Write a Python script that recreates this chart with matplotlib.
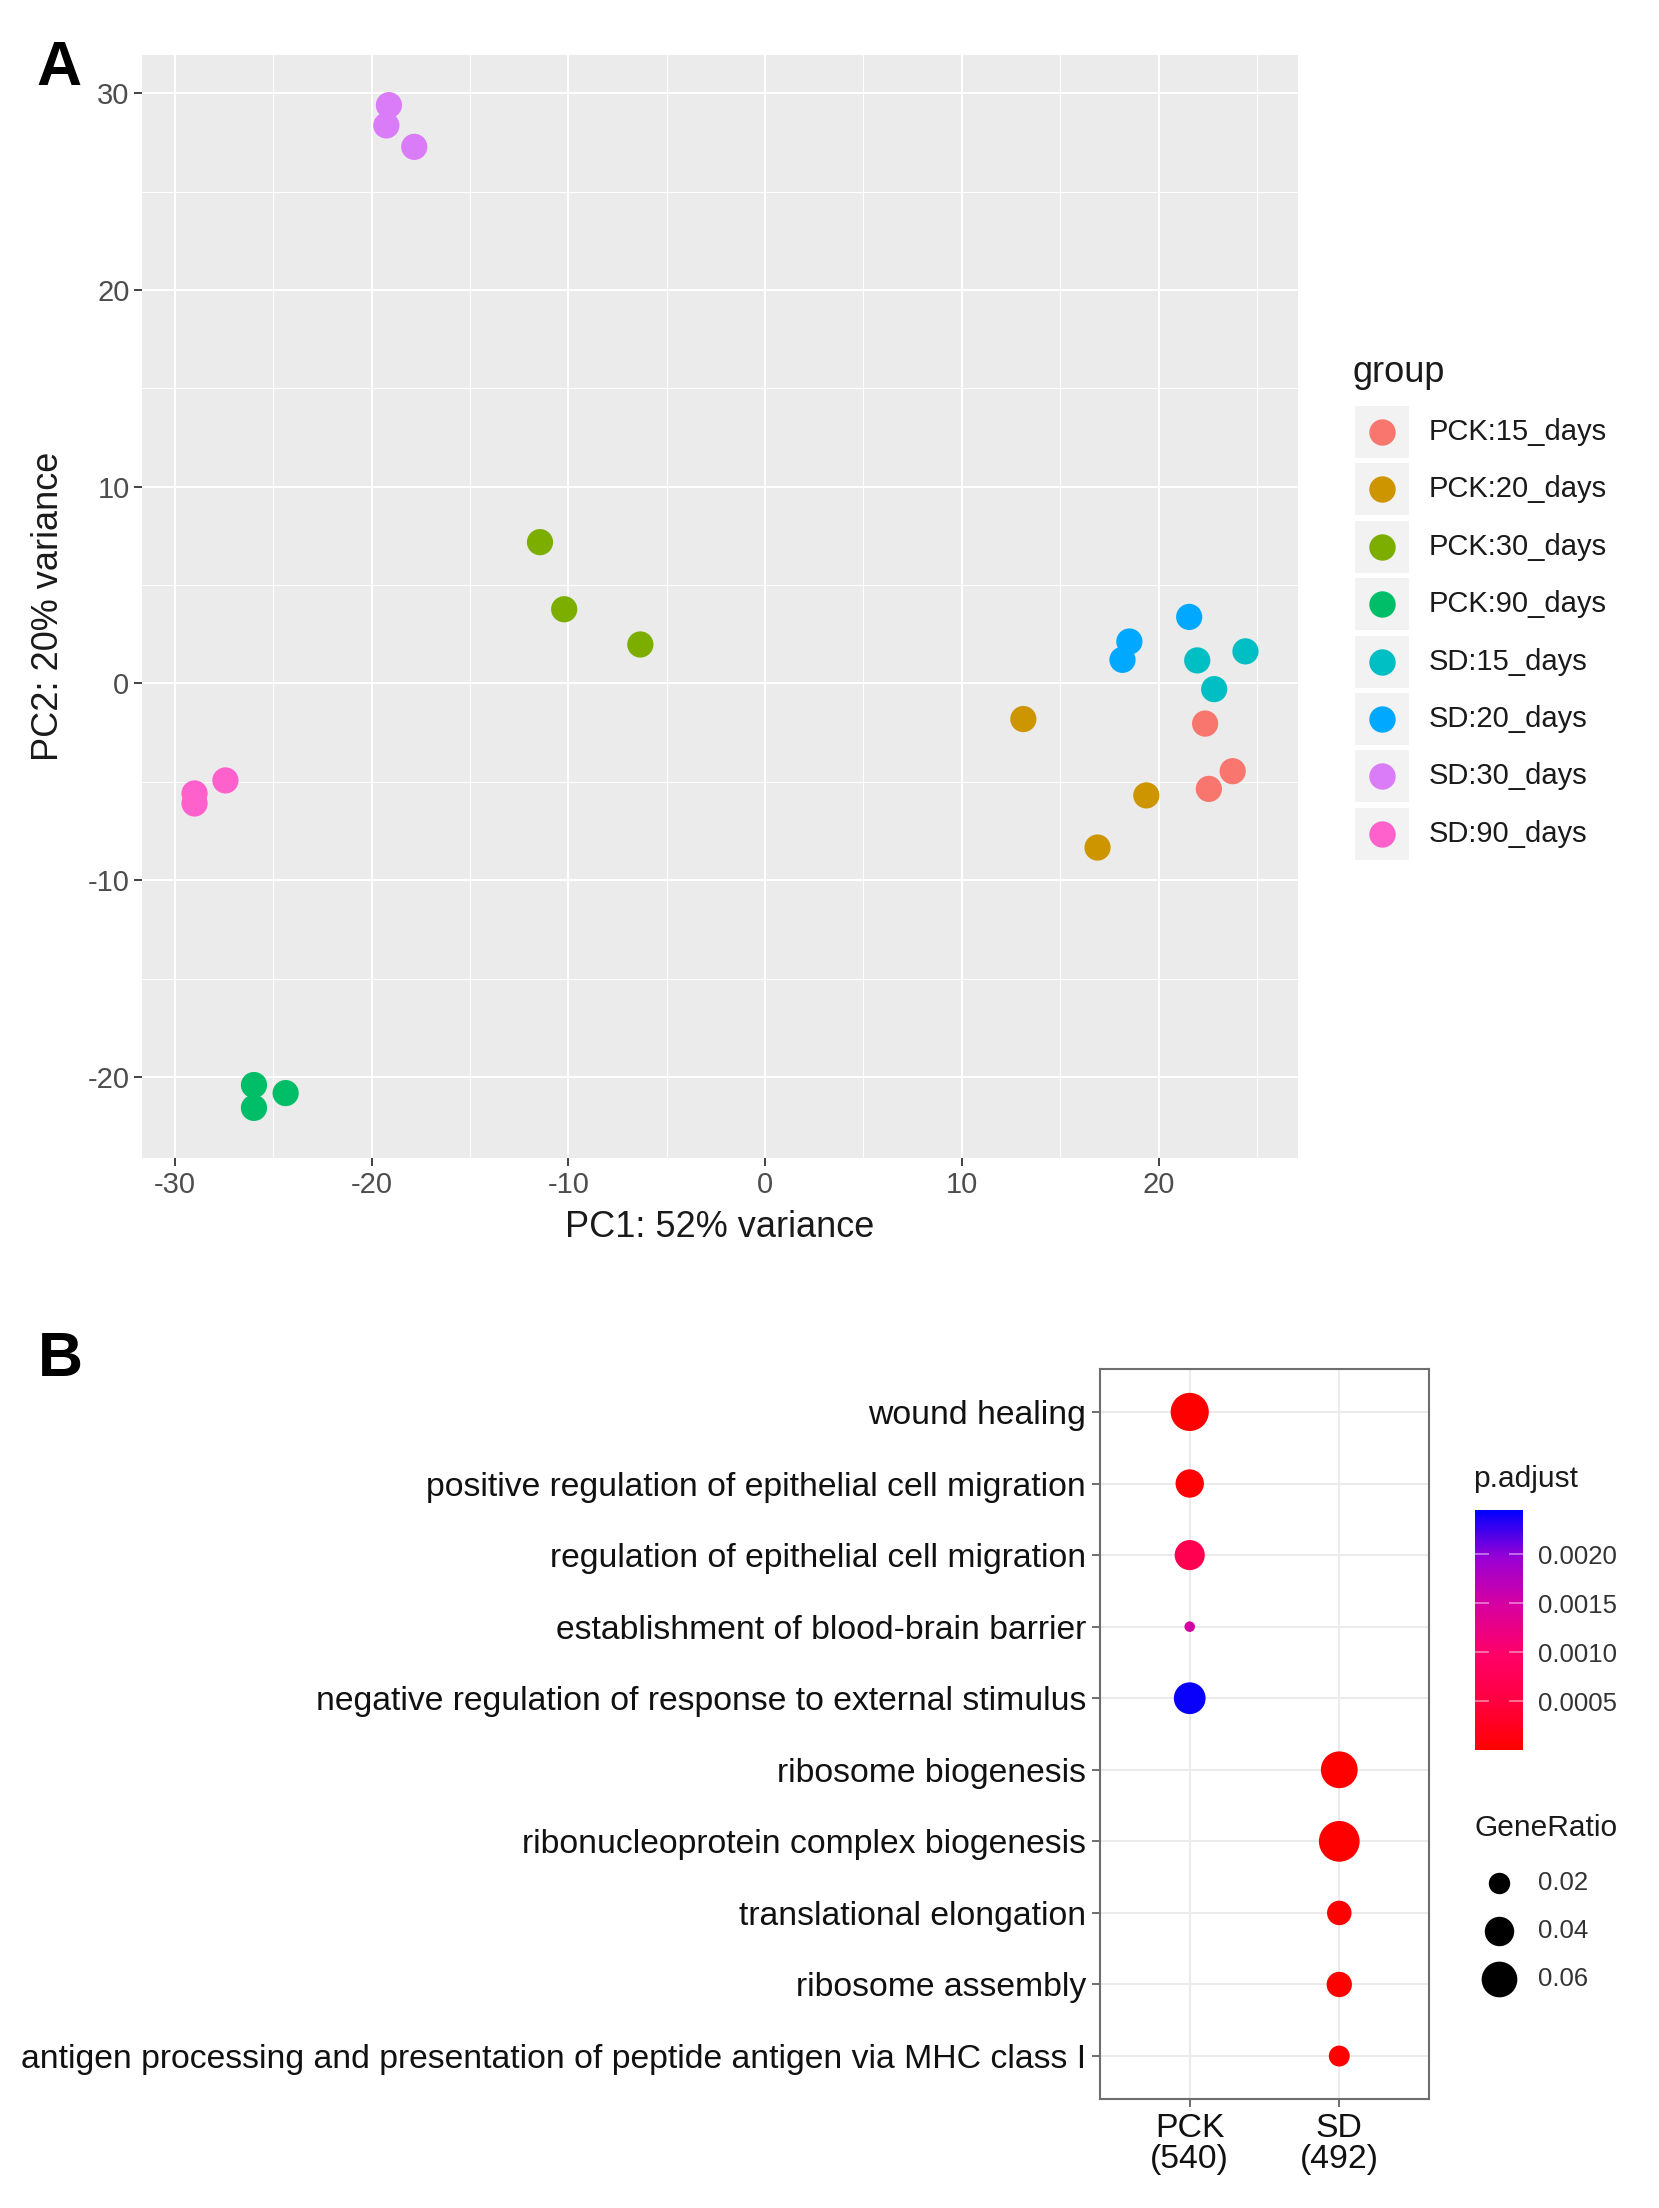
import numpy as np
import matplotlib
matplotlib.use('Agg')
from matplotlib import pyplot as plt
from matplotlib.patches import Rectangle
from matplotlib.lines import Line2D
from matplotlib.colors import LinearSegmentedColormap, Normalize
from matplotlib.cm import ScalarMappable

plt.rcParams['font.family'] = ['Liberation Sans', 'DejaVu Sans']
plt.rcParams['axes.unicode_minus'] = False

# ---- panel A data : PCA of samples ----
groups = ['PCK:15_days', 'PCK:20_days', 'PCK:30_days', 'PCK:90_days',
          'SD:15_days', 'SD:20_days', 'SD:30_days', 'SD:90_days']
group_colors = ['#F8766D', '#CD9600', '#7CAE00', '#00BE67',
                '#00BFC4', '#00A9FF', '#DA7CF8', '#FF61CC']
pc1 = [[22.37, 23.77, 22.56],
       [13.13, 19.38, 16.90],
       [-11.44, -10.21, -6.34],
       [-25.98, -25.98, -24.37],
       [21.97, 22.83, 24.42],
       [21.56, 18.52, 18.17],
       [-19.12, -19.25, -17.83],
       [-29.00, -29.00, -27.43]]
pc2 = [[-2.04, -4.46, -5.36],
       [-1.81, -5.69, -8.34],
       [7.18, 3.77, 1.98],
       [-20.41, -21.57, -20.82],
       [1.17, -0.29, 1.63],
       [3.38, 2.13, 1.20],
       [29.39, 28.36, 27.27],
       [-5.59, -6.10, -4.93]]

# ---- panel B data : GO enrichment dot plot ----
terms = ['wound healing',
         'positive regulation of epithelial cell migration',
         'regulation of epithelial cell migration',
         'establishment of blood-brain barrier',
         'negative regulation of response to external stimulus',
         'ribosome biogenesis',
         'ribonucleoprotein complex biogenesis',
         'translational elongation',
         'ribosome assembly',
         'antigen processing and presentation of peptide antigen via MHC class I']
clusters = ['PCK\n(540)', 'SD\n(492)']
term_cluster = [0, 0, 0, 0, 0, 1, 1, 1, 1, 1]
gene_ratio = [0.069, 0.037, 0.042, 0.003, 0.047, 0.064, 0.079, 0.027, 0.029, 0.019]
p_adjust = [2e-6, 4e-5, 7e-4, 1.5e-3, 2.42e-3, 1e-9, 1e-9, 1e-7, 2e-7, 1e-6]
size_breaks = [0.02, 0.04, 0.06]
cbar_ticks = [0.0005, 0.0010, 0.0015, 0.0020]

W, H, DPI = 1659, 2208, 100


def fxy(px, py):
    # pixel position -> figure fraction
    return px / W, 1 - py / H


def size_of(ratio):
    # marker area (pt^2) for a gene ratio
    d_px = np.sqrt(458 + (np.asarray(ratio) - 0.02) * 20400)
    return (d_px * 72.0 / DPI) ** 2


# red -> pink -> purple -> blue, as sampled from the colour bar
cmap = LinearSegmentedColormap.from_list('padj', [
    (0.0, '#FF0000'), (0.2, '#FF0040'), (0.4, '#FF0068'),
    (0.6, '#D8009F'), (0.8, '#9A00D4'), (1.0, '#0000FF')])

fig = plt.figure(figsize=(W / DPI, H / DPI), dpi=DPI)

# ================= panel A =================
l, b = fxy(142, 1158)
r, t = fxy(1298, 55)
ax = fig.add_axes([l, b, r - l, t - b])
ax.set_facecolor('#EBEBEB')
for i in range(len(groups)):
    ax.scatter(pc1[i], pc2[i], s=size_of(0.02) * 1.5, color=group_colors[i],
               edgecolors='none', zorder=3)

allx = np.concatenate(pc1)
ally = np.concatenate(pc2)
ex = (allx.max() - allx.min()) * 0.05
ey = (ally.max() - ally.min()) * 0.05
ax.set_xlim(allx.min() - ex, allx.max() + ex)
ax.set_ylim(ally.min() - ey, ally.max() + ey)
ax.set_xticks([-30, -20, -10, 0, 10, 20])
ax.set_yticks([-20, -10, 0, 10, 20, 30])
ax.set_xticks(np.arange(-25, 30, 10), minor=True)
ax.set_yticks(np.arange(-15, 30, 10), minor=True)
ax.grid(which='major', color='white', lw=1.5)
ax.grid(which='minor', color='white', lw=0.7)
ax.set_axisbelow(True)
for s in ax.spines.values():
    s.set_visible(False)
ax.tick_params(which='major', length=6, width=1.3, color='#333333',
               labelcolor='#4D4D4D', labelsize=21, pad=3)
ax.tick_params(which='minor', length=0)
ax.set_xlabel('PC1: 52% variance', fontsize=26, color='#1A1A1A')
ax.set_ylabel('PC2: 20% variance', fontsize=26, color='#1A1A1A')
ax.xaxis.set_label_coords(0.5, -0.047)
ax.yaxis.set_label_coords(-0.066, 0.5)

# group legend with grey key boxes
fig.text(*fxy(1353, 372), 'group', fontsize=26, color='#1A1A1A',
         ha='left', va='center')
for i, g in enumerate(groups):
    yc = 432 + 57.4 * i
    x0, y0 = fxy(1355, yc + 26)
    fig.add_artist(Rectangle((x0, y0), 54 / W, 52 / H, transform=fig.transFigure,
                             fc='#F2F2F2', ec='none'))
    fig.add_artist(Line2D([fxy(1382, yc)[0]], [fxy(1382, yc)[1]],
                          transform=fig.transFigure, marker='o', ms=19,
                          mfc=group_colors[i], mec='none', ls='none'))
    fig.text(*fxy(1429, yc), g, fontsize=21, color='#1A1A1A', ha='left', va='center')

fig.text(*fxy(36, 85), 'A', fontsize=45, fontweight='bold', ha='left', va='baseline')

# ================= panel B =================
l, b = fxy(1100, 2099)
r, t = fxy(1429, 1369)
bx = fig.add_axes([l, b, r - l, t - b])
norm = Normalize(vmin=0, vmax=0.00245)
ypos = np.arange(1, len(terms) + 1)
bx.scatter(np.array(term_cluster) + 1, ypos, s=size_of(gene_ratio),
           c=p_adjust, cmap=cmap, norm=norm, edgecolors='none', zorder=3)
bx.set_xlim(0.4, 2.6)
bx.set_ylim(len(terms) + 0.6, 0.4)
bx.set_xticks([1, 2])
bx.set_xticklabels(clusters)
bx.set_yticks(ypos)
bx.set_yticklabels(terms)
bx.grid(color='#EBEBEB', lw=1.4)
bx.set_axisbelow(True)
for s in bx.spines.values():
    s.set_color('#6E6E6E')
    s.set_linewidth(1.5)
bx.tick_params(length=6, width=1.2, color='#555555', labelcolor='#111111',
               labelsize=24.3, pad=4)
for lab in bx.get_xticklabels():
    lab.set_linespacing(1.0)

# colour bar
l, b = fxy(1475, 1750)
r, t = fxy(1523, 1510)
cax = fig.add_axes([l, b, r - l, t - b])
cb = fig.colorbar(ScalarMappable(norm=norm, cmap=cmap), cax=cax, ticks=cbar_ticks)
cb.outline.set_visible(False)
cb.ax.set_yticklabels(['%.4f' % v for v in cbar_ticks])
cax.tick_params(direction='in', length=10, width=1.2, color='#FFFFFF80',
                left=True, right=True, labelsize=18.5, labelcolor='#333333', pad=11)
fig.text(*fxy(1473, 1479), 'p.adjust', fontsize=21.5, color='#1A1A1A',
         ha='left', va='center')

# size legend
fig.text(*fxy(1475, 1828), 'GeneRatio', fontsize=21.5, color='#1A1A1A',
         ha='left', va='center')
for i, v in enumerate(size_breaks):
    yc = 1882.7 + 48.3 * i
    fig.add_artist(Line2D([fxy(1499, yc)[0]], [fxy(1499, yc)[1]],
                          transform=fig.transFigure, marker='o',
                          ms=np.sqrt(size_of(v)), mfc='black', mec='none', ls='none'))
    fig.text(*fxy(1538, yc), '%.2f' % v, fontsize=18.5, color='#333333',
             ha='left', va='center')

fig.text(*fxy(38, 1376), 'B', fontsize=45, fontweight='bold', ha='left', va='baseline')

fig.savefig('out.png', dpi=DPI, facecolor='white')
